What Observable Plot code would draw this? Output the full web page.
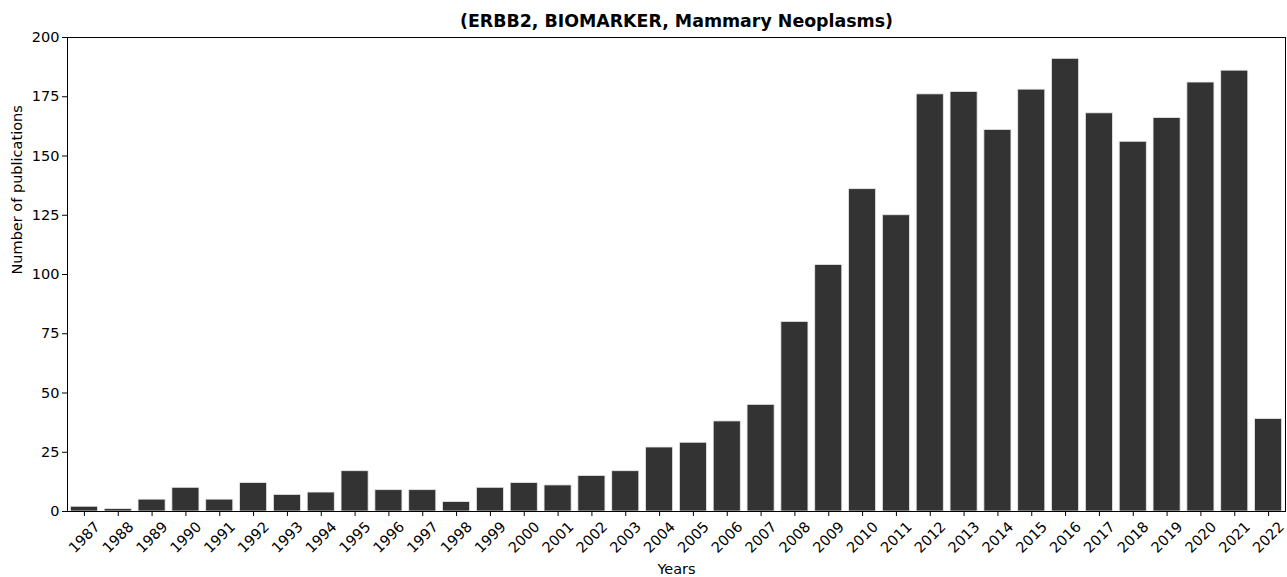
<!DOCTYPE html>
<html>
<head>
<meta charset="utf-8">
<script src="https://cdn.jsdelivr.net/npm/d3@7"></script>
<script src="https://cdn.jsdelivr.net/npm/@observablehq/plot@0.6"></script>
<style>
  html, body { margin: 0; padding: 0; background: #fff; }
  svg { display: block; }
</style>
</head>
<body>
<div id="chart"></div>
<script>
const years = [1987,1988,1989,1990,1991,1992,1993,1994,1995,1996,1997,1998,1999,2000,2001,2002,2003,2004,2005,2006,2007,2008,2009,2010,2011,2012,2013,2014,2015,2016,2017,2018,2019,2020,2021,2022];
const counts = [2,1,5,10,5,12,7,8,17,9,9,4,10,12,11,15,17,27,29,38,45,80,104,136,125,176,177,161,178,191,168,156,166,181,186,39];
const yTicks = [0,25,50,75,100,125,150,175,200];
const titleText = "(ERBB2, BIOMARKER, Mammary Neoplasms)";
const xLabel = "Years";
const yLabel = "Number of publications";

const data = years.map((y, i) => ({year: String(y), count: counts[i]}));
const W = 1287, ML = 67, MR = 2;
const step = (W - ML - MR) / years.length;
const inset = step * 0.1;

const chart = Plot.plot({
  width: W,
  height: 577,
  marginLeft: ML,
  marginRight: MR,
  marginTop: 37,
  marginBottom: 66,
  style: {fontFamily: "DejaVu Sans, sans-serif", fontSize: "14.5px", color: "#000", background: "#fff"},
  x: {type: "band", domain: years.map(String), padding: 0, round: false, align: 0.5, label: null},
  y: {domain: [0, 200], label: null},
  marks: [
    Plot.barY(data, {x: "year", y: "count", insetLeft: inset, insetRight: inset, fill: "#333333", stroke: "#e8e8e8", strokeWidth: 0.8}),
    Plot.axisY({ticks: yTicks, tickSize: 5, tickPadding: 3, fontSize: 14.5, label: null}),
    Plot.axisX({tickSize: 5, tickFormat: () => "", label: null}),
    Plot.text(years.map(String), {x: d => d, frameAnchor: "bottom", dy: 26, rotate: -45, textAnchor: "middle", lineAnchor: "middle", fontSize: 14.5, fill: "#000"}),
    Plot.frame({stroke: "#000", strokeWidth: 1}),
    Plot.text([titleText], {frameAnchor: "top", dy: -16, lineAnchor: "middle", fontSize: 17.4, fontWeight: "bold", fill: "#000"}),
    Plot.text([xLabel], {frameAnchor: "bottom", dy: 58, lineAnchor: "middle", fontSize: 14.5, fill: "#000"}),
    Plot.text([yLabel], {frameAnchor: "left", dx: -50, rotate: -90, lineAnchor: "middle", fontSize: 14.5, fill: "#000"})
  ]
});
document.getElementById("chart").append(chart);
</script>
</body>
</html>
